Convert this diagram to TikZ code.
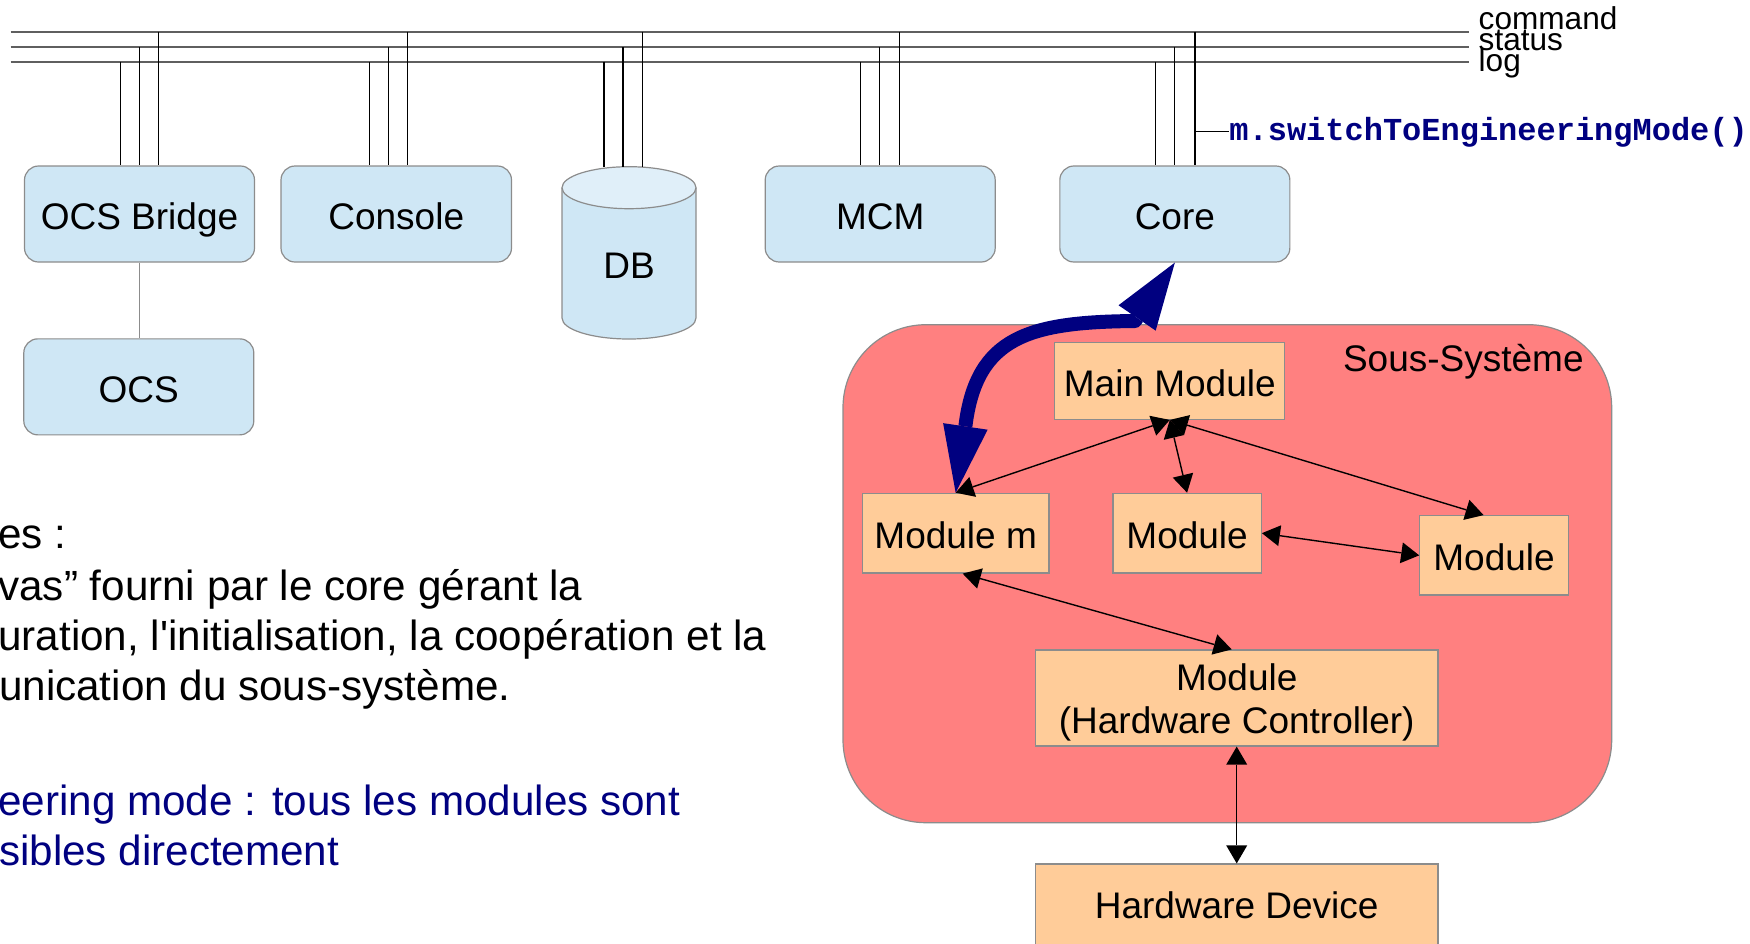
\documentclass[tikz,border=0pt]{standalone}
\usepackage{fontspec}
\newfontfamily\lsans{Liberation Sans}[Ligatures=TeXOff]
\newfontfamily\lmono{Liberation Mono}
\usetikzlibrary{arrows.meta,calc}

\definecolor{boxblue}{RGB}{207,231,245}
\definecolor{dbtop}{RGB}{224,239,249}
\definecolor{zonered}{RGB}{255,128,128}
\definecolor{modorange}{RGB}{255,204,153}
\definecolor{navy}{RGB}{0,0,128}
\definecolor{edgegrey}{RGB}{140,140,140}
\definecolor{busgrey}{RGB}{95,95,95}

\tikzset{
  lbl/.style={font=\lsans\fontsize{18.5}{21.3}\selectfont, text height=18.1pt, text depth=2.8pt},
  bluebox/.style={lbl, draw=edgegrey, line width=0.6pt, fill=boxblue, rounded corners=7pt,
    inner sep=0pt, minimum width=115pt, minimum height=48pt},
  modbox/.style={draw=edgegrey, line width=0.6pt, fill=modorange, inner sep=0pt},
  bus/.style={draw=busgrey, line width=0.9pt},
  drop/.style={draw=black, line width=0.55pt},
  thinarr/.style={draw=black, line width=0.7pt,
    {Triangle[length=9pt,width=10.5pt,line width=0pt]}-{Triangle[length=9pt,width=10.5pt,line width=0pt]}},
  navyarr/.style={draw=navy, line width=7pt, line join=round,
    {Triangle[length=33.5pt,width=22.5pt,line width=0pt]}-{Triangle[length=33.5pt,width=22.5pt,line width=0pt]}},
  bustext/.style={font=\lsans\fontsize{15.8}{16}\selectfont, anchor=base west, inner sep=0pt},
  bodytext/.style={font=\lsans\fontsize{21.1}{25}\selectfont, anchor=base west, inner sep=0pt},
}

\begin{document}
\begin{tikzpicture}[x=0.5pt,y=-0.5pt]
\useasboundingbox (0,0) rectangle (1750,943);
\clip (0,0) rectangle (1750,943);

% --- message buses ---
\draw[bus] (10.7,31.7) coordinate (cmdL) -- (1469.3,31.7) coordinate (cmdR);
\draw[bus] (10.7,47) coordinate (staL) -- (1469.3,47) coordinate (staR);
\draw[bus] (10.7,61.7) coordinate (logL) -- (1469.3,61.7) coordinate (logR);
\node[bustext] (lcmd) at (1478.3,29.5) {command};
\node[bustext] (lsta) at (1478.3,50) {status};
\node[bustext] (llog) at (1478.3,71) {log};

% --- components ---
\node[bluebox] (ocsb) at (139.5,214) {OCS Bridge};
\node[bluebox, minimum width=115.25pt] (console) at (396.25,214) {Console};
\node[bluebox] (mcm) at (880.2,214) {MCM};
\node[bluebox] (core) at (1174.85,214) {Core};
\node[bluebox] (ocs) at (138.8,386.85) {OCS};

% database cylinder
\filldraw[fill=boxblue, draw=edgegrey, line width=0.6pt]
  (562,187.7) -- (562,318) .. controls (562,329.6) and (592,339) .. (629,339)
  .. controls (666,339) and (696,329.6) .. (696,318) -- (696,187.7);
\filldraw[fill=dbtop, draw=edgegrey, line width=0.6pt] (629,187.7) ellipse [x radius=67, y radius=21];
\coordinate (dbtop) at (629,166.7);
\node[lbl, inner sep=0pt, minimum width=67pt, minimum height=75.65pt] (db) at (629,263.35) {DB};

% bus taps: log, status, command
\foreach \xl/\xs/\xc/\n in {120.5/139.7/158.5/ocsb, 369.6/388.4/407.6/console,
                           860.7/879.5/899.6/mcm, 1155.4/1174.9/1195/core}{
  \draw[drop] (\xl,61.7) -- (\xl,61.7 |- \n.north);
  \draw[drop] (\xs,47) -- (\xs,47 |- \n.north);
  \draw[drop] (\xc,31.7) -- (\xc,31.7 |- \n.north);
}
\draw[drop] (604,61.7) -- (604,61.7 |- dbtop);
\draw[drop] (623,47) -- (623,47 |- dbtop);
\draw[drop] (642.4,31.7) -- (642.4,31.7 |- dbtop);

\draw[draw=edgegrey, line width=0.6pt] (ocsb.south) -- (ocsb.south |- ocs.north);

% engineering mode call
\node[font=\lmono\bfseries\fontsize{16}{18}\selectfont, text=navy, anchor=base west, inner sep=0pt]
  (sw) at (1229,140) {m.switchToEngineeringMode()};
\draw[drop] (1195,131.7) -- (1229,131.7);

% --- subsystem ---
\node[draw=edgegrey, line width=0.6pt, fill=zonered, rounded corners=41.5pt, inner sep=0pt,
  minimum width=384.35pt, minimum height=249pt] (zone) at (1227.35,573.7) {};
\node[lbl, anchor=base east, inner sep=0pt] (zlabel) at (1584,371) {Sous-Système};

\node[modbox, lbl, minimum width=115pt, minimum height=38.3pt] (main) at (1169.8,381) {Main Module};
\node[modbox, lbl, minimum width=93.35pt, minimum height=39.85pt] (modm) at (955.65,533.15) {Module m};
\node[modbox, lbl, minimum width=74.2pt, minimum height=39.85pt] (modc) at (1187.1,533.15) {Module};
\node[modbox, lbl, minimum width=74.25pt, minimum height=39.65pt] (modr) at (1494.05,555.35) {Module};
\node[modbox, font=\lsans\fontsize{18.5}{21.3}\selectfont, align=center,
  minimum width=201.3pt, minimum height=48pt] (hwc) at (1236.7,698)
  {\rule{0pt}{17.9pt}Module\\(Hardware Controller)};
\node[modbox, lbl, text depth=14.1pt, minimum width=201.3pt, minimum height=50pt] (hwd) at (1236.7,914) {Hardware Device};

% --- links ---
\draw[navyarr] (modm.north) -- (965.45,425.8) .. controls (976.5,336) and (1030,322) .. (1135,321) -- (core.south);

\draw[thinarr] (main.south) -- (modm.north);
\draw[thinarr] (main.south) -- (modc.north);
\draw[thinarr] (main.south) -- ($(modr.north west)!0.43!(modr.north east)$);
\draw[thinarr] (modc.east) -- (modr.west);
\draw[thinarr] ($(modm.south)+(7,0)$) -- ($(hwc.north)+(-5,0)$);
\draw[thinarr] (hwc.south) -- (hwd.north);

% --- notes ---
\node[bodytext] (t1) at (-2,548.3) {es :};
\node[bodytext] (t2) at (-2,600) {vas” fourni par le core gérant la};
\node[bodytext] (t3) at (-2,650) {uration, l'initialisation, la coopération et la};
\node[bodytext] (t4) at (-1.3,700) {unication du sous-système.};
\node[bodytext, text=navy] (t5) at (-2,815) {eering mode : tous les modules sont};
\node[bodytext, text=navy] (t6) at (-1.3,865) {sibles directement};
\end{tikzpicture}
\end{document}
